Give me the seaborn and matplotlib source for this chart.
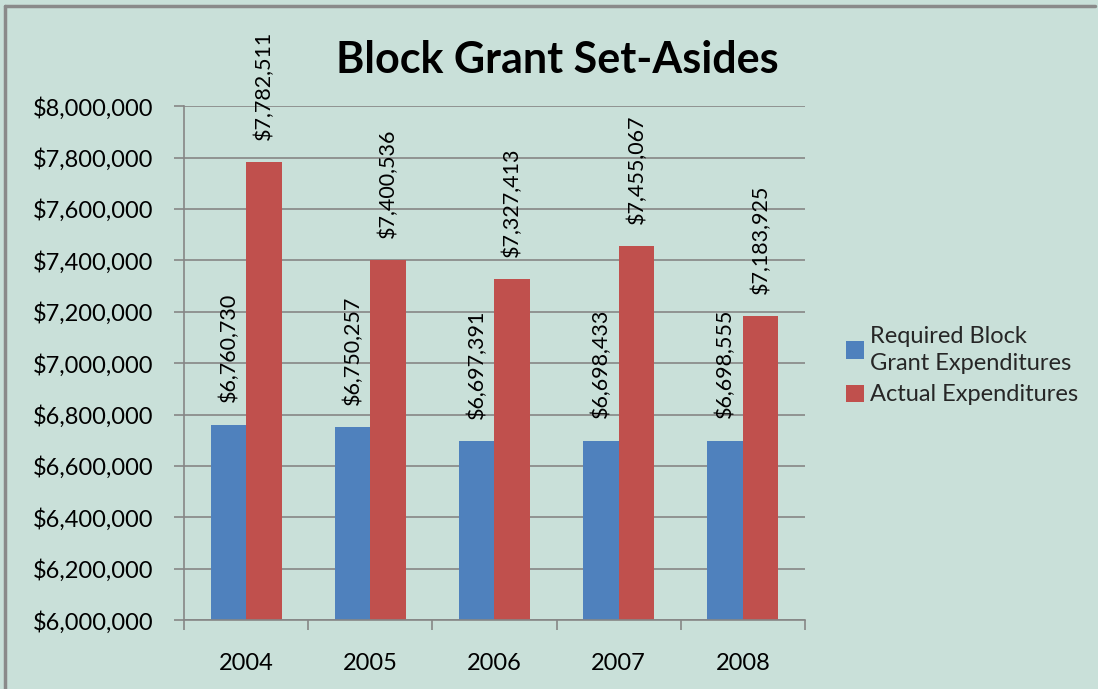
import matplotlib
matplotlib.use("Agg")
import matplotlib.pyplot as plt
import matplotlib.ticker as mticker
from matplotlib.lines import Line2D
import seaborn as sns
import pandas as pd

years = ["2004", "2005", "2006", "2007", "2008"]
required = [6760730, 6750257, 6697391, 6698433, 6698555]
actual = [7782511, 7400536, 7327413, 7455067, 7183925]
series_names = ["Required Block\nGrant Expenditures", "Actual Expenditures"]
title = "Block Grant Set-Asides"

df = pd.DataFrame({
    "Year": years * 2,
    "Value": required + actual,
    "Series": [series_names[0]] * len(years) + [series_names[1]] * len(years),
})

sns.set_theme(style="white")
plt.rcParams["font.family"] = ["Lato", "DejaVu Sans"]

bg = "#C9E0D9"
fig = plt.figure(figsize=(10.98, 6.89), dpi=100, facecolor=bg)
fig.patch.set_linewidth(0)
ax = fig.add_axes([0.1676, 0.100, 0.5655, 0.746])
ax.set_facecolor(bg)

palette = {series_names[0]: "#4F81BD", series_names[1]: "#C0504D"}
sns.barplot(data=df, x="Year", y="Value", hue="Series", palette=palette,
            width=0.57, gap=0, ax=ax, saturation=1, edgecolor="none")

ax.set_ylim(6000000, 8000000)
ax.set_xlim(-0.5, 4.5)
ax.yaxis.set_major_locator(mticker.MultipleLocator(200000))
ax.yaxis.set_major_formatter(mticker.FuncFormatter(lambda v, p: f"${v:,.0f}"))
ax.grid(axis="y", color="#868686", linewidth=1.2)
ax.set_axisbelow(True)
for s in ["top", "right"]:
    ax.spines[s].set_visible(False)
for s in ["left", "bottom"]:
    ax.spines[s].set_color("#868686")
    ax.spines[s].set_linewidth(1.2)

ax.set_xlabel("")
ax.set_ylabel("")
ax.tick_params(axis="y", which="major", length=7, width=1.2, color="#868686",
               direction="out", labelsize=17, pad=15, left=True)
ax.tick_params(axis="x", which="major", length=0, labelsize=17, pad=24)
ax.set_xticks(range(len(years)), years)
ax.set_xticks([i - 0.5 for i in range(len(years) + 1)], minor=True)
ax.tick_params(axis="x", which="minor", length=7, width=1.2, color="#868686",
               direction="out", bottom=True)
for lbl in ax.get_yticklabels() + ax.get_xticklabels():
    lbl.set_color("black")

for cont in ax.containers:
    ax.bar_label(cont, labels=[f"${v:,.0f}" for v in cont.datavalues],
                 rotation=90, padding=16, fontsize=15.5, color="black")

fig.text(0.508, 0.913, title, ha="center", va="center", fontsize=31,
         fontweight="bold", color="black")

leg = ax.legend(loc="center left", bbox_to_anchor=(1.066, 0.495), frameon=False,
                fontsize=17, handlelength=0.75, handleheight=0.75,
                handletextpad=0.25, labelspacing=0.45, borderaxespad=0,
                borderpad=0)
for t in leg.get_texts():
    t.set_linespacing(1.35)

fig.add_artist(Line2D([0.005, 0.005], [0, 0.992], transform=fig.transFigure,
                      color="#8A8A8A", linewidth=2.5))
fig.add_artist(Line2D([0.005, 0.997], [0.992, 0.992], transform=fig.transFigure,
                      color="#8A8A8A", linewidth=2.5))

fig.savefig("out.png", dpi=100, facecolor=bg, edgecolor=bg)
